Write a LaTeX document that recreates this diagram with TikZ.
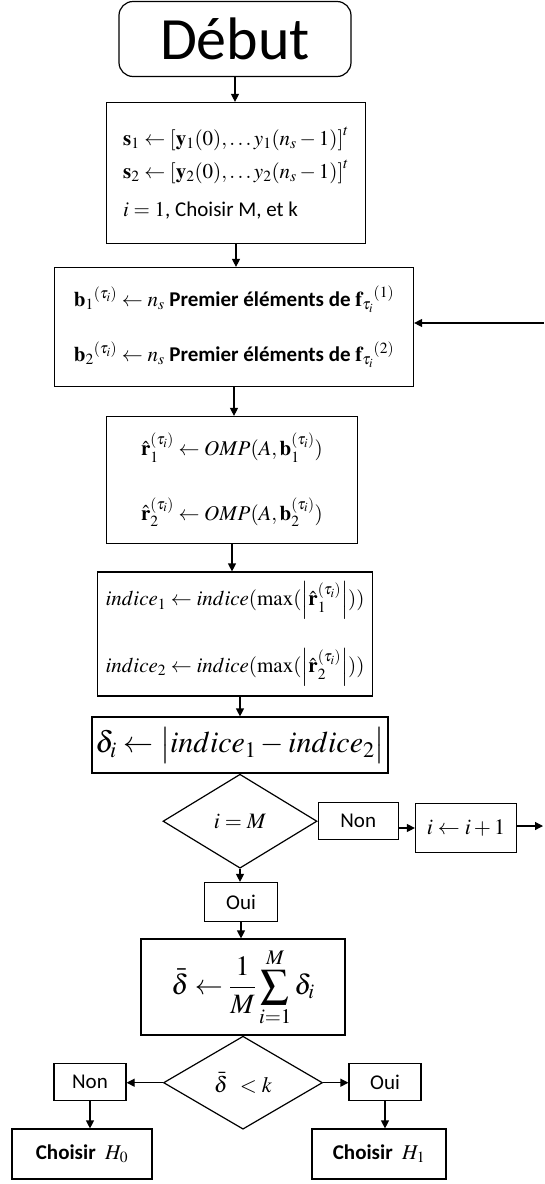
\documentclass[tikz,border=0pt]{standalone}
\usepackage{amsmath,amssymb}
\usepackage{mathptmx}
\usepackage[no-math]{fontspec}
\setmainfont{Carlito}
\usetikzlibrary{shapes.geometric,arrows.meta}

\begin{document}
\begin{tikzpicture}[x=1pt,y=-1pt, line width=1.2pt,
  every node/.style={font=\fontsize{21}{24}\selectfont},
  box/.style={draw, rectangle, inner sep=0pt, align=left},
  decision/.style={draw, diamond, inner sep=0pt},
  flow/.style={-{Triangle[length=8pt,width=8pt]}}]
  \useasboundingbox (0,0) rectangle (544,1184);

  % start and initialisation
  \node[box, rounded corners=14pt, minimum width=232pt, minimum height=75pt,
        font=\fontsize{60}{64}\selectfont] (debut) at (235,39) {Début};
  \node[box, minimum width=259pt, minimum height=141pt] (init) at (236,173)
    {$\mathbf{s}_1 \leftarrow \left[\mathbf{y}_1(0),\ldots y_1(n_s-1)\right]^t$\\[9pt]
     $\mathbf{s}_2 \leftarrow \left[\mathbf{y}_2(0),\ldots y_2(n_s-1)\right]^t$\\[14pt]
     $i=1$, Choisir M, et k};

  % loop body
  \node[box, minimum width=359pt, minimum height=119pt] (bvec) at (234,327)
    {${\mathbf{b}_1}^{(\tau_i)} \leftarrow n_s$ \textbf{Premier éléments de} ${\mathbf{f}_{\tau_i}}^{(1)}$\\[28pt]
     ${\mathbf{b}_2}^{(\tau_i)} \leftarrow n_s$ \textbf{Premier éléments de} ${\mathbf{f}_{\tau_i}}^{(2)}$};
  \node[box, minimum width=251pt, minimum height=127pt] (omp) at (232,480)
    {$\hat{\mathbf{r}}_1^{(\tau_i)} \leftarrow OMP(A,\mathbf{b}_1^{(\tau_i)})$\\[34pt]
     $\hat{\mathbf{r}}_2^{(\tau_i)} \leftarrow OMP(A,\mathbf{b}_2^{(\tau_i)})$};
  \node[box, minimum width=275pt, minimum height=124pt] (indice) at (235,634)
    {$indice_1 \leftarrow indice(\max(\left|\hat{\mathbf{r}}_1^{(\tau_i)}\right|))$\\[28pt]
     $indice_2 \leftarrow indice(\max(\left|\hat{\mathbf{r}}_2^{(\tau_i)}\right|))$};
  \node[box, minimum width=296pt, minimum height=56pt,
        font=\fontsize{30}{34}\selectfont] (delta) at (240,745)
    {$\delta_i \leftarrow \bigl|indice_1-indice_2\bigr|$};

  % test on i
  \node[decision, minimum width=154pt, minimum height=94pt,
        font=\fontsize{22}{26}\selectfont, anchor=north] (testi) at (delta.south) {$i=M$};
  \node[box, minimum width=80pt, minimum height=37pt, anchor=west] (non1) at (testi.east) {Non};
  \node[box, minimum width=101pt, minimum height=49pt,
        font=\fontsize{22}{26}\selectfont] (incr) at (466,828) {$i \leftarrow i+1$};
  \node[box, minimum width=73pt, minimum height=39pt] (oui1) at (241,902) {Oui};
  \coordinate (loopout) at (543,826);
  \coordinate (loopin) at (544,323);

  % mean and final test
  \node[box, minimum width=204pt, minimum height=96pt,
        font=\fontsize{28}{32}\selectfont] (mean) at (243,987)
    {$\displaystyle\bar{\delta} \leftarrow \frac{1}{M}\sum_{i=1}^{M}\delta_i$};
  \node[decision, minimum width=159pt, minimum height=93pt,
        font=\fontsize{22}{26}\selectfont, anchor=north] (testk) at (mean.south) {$\bar{\delta}\;\,<k$};
  \node[box, minimum width=72pt, minimum height=37pt] (non2) at (90,1082) {Non};
  \node[box, minimum width=72pt, minimum height=37pt] (oui2) at (385,1082) {Oui};
  \node[box, minimum width=140pt, minimum height=50pt] (hzero) at (82,1154)
    {\textbf{Choisir}\ \ $H_0$};
  \node[box, minimum width=134pt, minimum height=50pt] (hone) at (379,1154)
    {\textbf{Choisir}\ \ $H_1$};

  % connectors
  \draw[flow] (debut.south) -- (debut.south |- init.north);
  \draw[flow] (init.south) -- (init.south |- bvec.north);
  \draw[flow] (bvec.south) -- (bvec.south |- omp.north);
  \draw[flow] (omp.south) -- (omp.south |- indice.north);
  \draw[flow] (delta.north |- indice.south) -- (delta.north);
  \draw[flow] (non1.east |- incr.west) -- (incr.west);
  \draw[flow] (incr.east |- loopout) -- (loopout);
  \draw[flow] (loopin) -- (loopin -| bvec.east);
  \draw[flow] (testi.south) -- (testi.south |- oui1.north);
  \draw[flow] (oui1.south) -- (oui1.south |- mean.north);
  \draw[flow] (testk.west) -- (non2.east |- testk.west);
  \draw[flow] (testk.east) -- (oui2.west |- testk.east);
  \draw[flow] (non2.south) -- (non2.south |- hzero.north);
  \draw[flow] (oui2.south) -- (oui2.south |- hone.north);
\end{tikzpicture}
\end{document}
